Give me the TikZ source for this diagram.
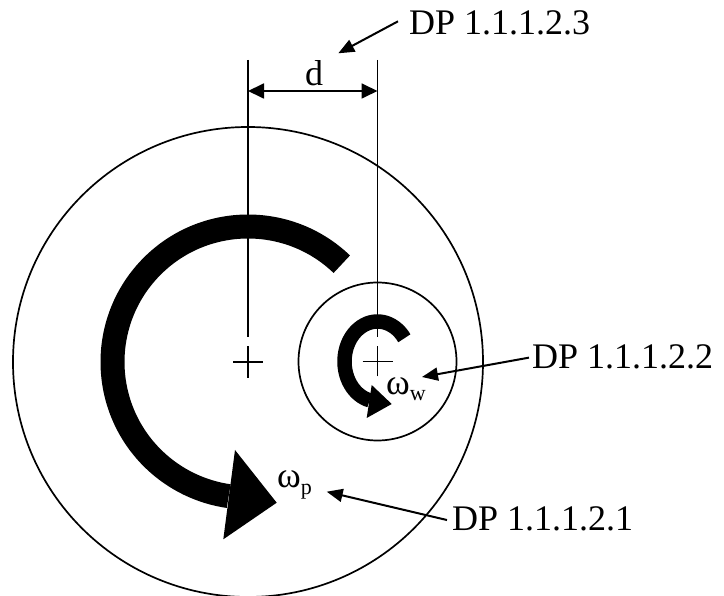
\documentclass[tikz,border=0pt]{standalone}
\usepackage{fontspec}
\setmainfont{Liberation Serif}
\usetikzlibrary{arrows.meta}
\newcommand{\bigtxt}{\fontsize{36}{38}\selectfont}
\newcommand{\subtxt}[1]{\raisebox{-6pt}{\fontsize{22}{23}\selectfont #1}}
\begin{document}
\begin{tikzpicture}[x=1pt,y=-1pt,
  thinline/.style={line width=1.7pt},
  guide/.style={line width=1.5pt},
  leader/.style={line width=2pt,-{Triangle[length=16pt,width=13pt]}},
  dimline/.style={line width=1.8pt,{Triangle[length=16pt,width=15pt]}-{Triangle[length=16pt,width=15pt]}},
  lbl/.style={inner sep=0pt,font=\bigtxt},
  spin/.style={line cap=butt}]
\useasboundingbox (0,0) rectangle (724,596);
% centres
\coordinate (cp) at (248,362);
\coordinate (cw) at (377.5,361.5);
% circles
\draw[thinline] (cp) circle[radius=235];
\draw[thinline] (cw) circle[radius=79];
% plus marks
\draw[thinline] ([xshift=-15pt]cp) -- ([xshift=15pt]cp) ([yshift=-16pt]cp) -- ([yshift=16pt]cp);
\draw[thinline] ([xshift=-15pt]cw) -- ([xshift=15pt]cw) ([yshift=-15pt]cw) -- ([yshift=15pt]cw);
% guide lines
\coordinate (gpt) at (248,60);
\coordinate (gpb) at (248,337);
\coordinate (gwt) at (377.5,60);
\coordinate (gwb) at (377.5,337);
\draw[guide] (gpt) -- (gpb);
\draw[guide] (gwt) -- (gwb);
% dimension
\coordinate (da) at (248,91);
\coordinate (db) at (377.5,91);
\draw[dimline] (da) -- (db);
\node[lbl,anchor=base] (d) at (314,85.7) {d};
% big rotation arrow
\draw[spin,line width=24pt] ([shift={(-46.2:135.5)}]cp) arc[start angle=-46.2,end angle=-261.8,radius=135.5];
\fill (235,450) -- (276.7,502.7) -- (223.3,539.3) -- cycle;
% small rotation arrow
\draw[spin,line width=14.5pt] ([shift={(-35.5:33 and 40)}]cw) arc[start angle=-35.5,end angle=-256.4,x radius=33,y radius=40];
\fill (371.7,385) -- (391.7,404) -- (366.7,418) -- cycle;
% omega labels
\node[lbl,anchor=base west] (wp) at (277,488) {ω\subtxt{p}};
\node[lbl,anchor=base west] (ww) at (386,395) {ω\subtxt{w}};
% DP labels
\node[lbl,anchor=base west] (dp3) at (409,35) {DP 1.1.1.2.3};
\node[lbl,anchor=base west] (dp2) at (532,368.3) {DP 1.1.1.2.2};
\node[lbl,anchor=base west] (dp1) at (452,530.7) {DP 1.1.1.2.1};
% leaders
\coordinate (t3) at (338.3,53.3);
\coordinate (t2) at (422,377);
\coordinate (t1) at (326.7,491.7);
\draw[leader] ([xshift=-11pt,yshift=2pt]dp3.west) -- (t3);
\draw[leader] ([xshift=-3pt,yshift=-1pt]dp2.west) -- (t2);
\draw[leader] ([xshift=-5pt,yshift=-1pt]dp1.west) -- (t1);
\end{tikzpicture}
\end{document}
